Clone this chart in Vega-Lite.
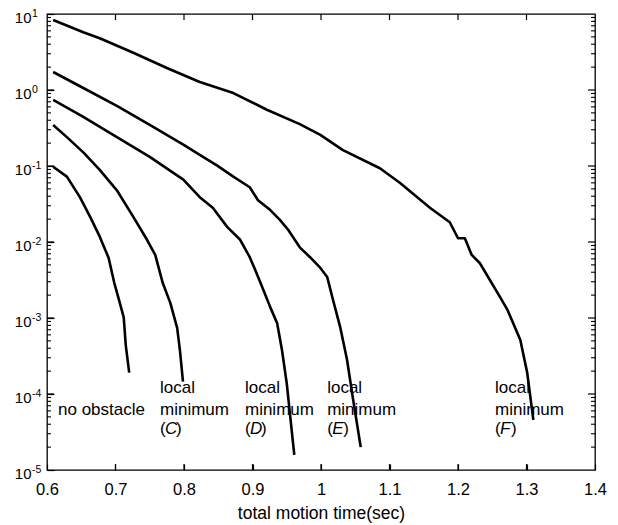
{
  "$schema": "https://vega.github.io/schema/vega-lite/v6.json",
  "width": 548,
  "height": 456,
  "autosize": {"type": "none"},
  "padding": {"left": 47, "top": 14, "right": 23, "bottom": 55},
  "background": "white",
  "config": {
    "view": {"stroke": "black", "strokeWidth": 1.3},
    "font": "Liberation Sans"
  },
  "datasets": {
    "curves": [
      {"s": "none", "x": 0.609, "y": 0.0977},
      {"s": "none", "x": 0.629, "y": 0.0724},
      {"s": "none", "x": 0.648, "y": 0.0389},
      {"s": "none", "x": 0.663, "y": 0.0214},
      {"s": "none", "x": 0.677, "y": 0.01175},
      {"s": "none", "x": 0.690, "y": 0.00617},
      {"s": "none", "x": 0.698, "y": 0.00295},
      {"s": "none", "x": 0.705, "y": 0.00174},
      {"s": "none", "x": 0.712, "y": 0.00102},
      {"s": "none", "x": 0.715, "y": 0.000437},
      {"s": "none", "x": 0.720, "y": 0.000191},

      {"s": "C", "x": 0.609, "y": 0.347},
      {"s": "C", "x": 0.629, "y": 0.240},
      {"s": "C", "x": 0.653, "y": 0.151},
      {"s": "C", "x": 0.677, "y": 0.0891},
      {"s": "C", "x": 0.702, "y": 0.0479},
      {"s": "C", "x": 0.726, "y": 0.0214},
      {"s": "C", "x": 0.746, "y": 0.0107},
      {"s": "C", "x": 0.758, "y": 0.00676},
      {"s": "C", "x": 0.769, "y": 0.00288},
      {"s": "C", "x": 0.780, "y": 0.00158},
      {"s": "C", "x": 0.790, "y": 0.000741},
      {"s": "C", "x": 0.794, "y": 0.00038},
      {"s": "C", "x": 0.7985, "y": 0.000145},

      {"s": "D", "x": 0.609, "y": 0.741},
      {"s": "D", "x": 0.653, "y": 0.442},
      {"s": "D", "x": 0.702, "y": 0.240},
      {"s": "D", "x": 0.750, "y": 0.132},
      {"s": "D", "x": 0.799, "y": 0.0661},
      {"s": "D", "x": 0.823, "y": 0.0389},
      {"s": "D", "x": 0.842, "y": 0.0282},
      {"s": "D", "x": 0.863, "y": 0.0158},
      {"s": "D", "x": 0.882, "y": 0.0107},
      {"s": "D", "x": 0.896, "y": 0.00631},
      {"s": "D", "x": 0.904, "y": 0.00427},
      {"s": "D", "x": 0.914, "y": 0.00257},
      {"s": "D", "x": 0.926, "y": 0.00138},
      {"s": "D", "x": 0.936, "y": 0.000851},
      {"s": "D", "x": 0.943, "y": 0.00038},
      {"s": "D", "x": 0.950, "y": 0.000138},
      {"s": "D", "x": 0.961, "y": 0.0000158},

      {"s": "E", "x": 0.609, "y": 1.726},
      {"s": "E", "x": 0.653, "y": 1.062},
      {"s": "E", "x": 0.702, "y": 0.617},
      {"s": "E", "x": 0.750, "y": 0.347},
      {"s": "E", "x": 0.799, "y": 0.191},
      {"s": "E", "x": 0.823, "y": 0.140},
      {"s": "E", "x": 0.848, "y": 0.102},
      {"s": "E", "x": 0.872, "y": 0.0724},
      {"s": "E", "x": 0.896, "y": 0.0525},
      {"s": "E", "x": 0.908, "y": 0.0355},
      {"s": "E", "x": 0.926, "y": 0.0263},
      {"s": "E", "x": 0.940, "y": 0.0195},
      {"s": "E", "x": 0.952, "y": 0.0145},
      {"s": "E", "x": 0.969, "y": 0.00851},
      {"s": "E", "x": 0.984, "y": 0.00631},
      {"s": "E", "x": 0.998, "y": 0.00468},
      {"s": "E", "x": 1.009, "y": 0.00347},
      {"s": "E", "x": 1.0175, "y": 0.00174},
      {"s": "E", "x": 1.028, "y": 0.000759},
      {"s": "E", "x": 1.038, "y": 0.000282},
      {"s": "E", "x": 1.047, "y": 0.0000832},
      {"s": "E", "x": 1.058, "y": 0.00002},

      {"s": "F", "x": 0.609, "y": 8.32},
      {"s": "F", "x": 0.653, "y": 5.75},
      {"s": "F", "x": 0.677, "y": 4.79},
      {"s": "F", "x": 0.726, "y": 3.09},
      {"s": "F", "x": 0.775, "y": 1.95},
      {"s": "F", "x": 0.823, "y": 1.274},
      {"s": "F", "x": 0.872, "y": 0.912},
      {"s": "F", "x": 0.921, "y": 0.550},
      {"s": "F", "x": 0.969, "y": 0.355},
      {"s": "F", "x": 0.999, "y": 0.257},
      {"s": "F", "x": 1.032, "y": 0.162},
      {"s": "F", "x": 1.086, "y": 0.0933},
      {"s": "F", "x": 1.115, "y": 0.0603},
      {"s": "F", "x": 1.159, "y": 0.0282},
      {"s": "F", "x": 1.188, "y": 0.0182},
      {"s": "F", "x": 1.200, "y": 0.0112},
      {"s": "F", "x": 1.210, "y": 0.0112},
      {"s": "F", "x": 1.220, "y": 0.00676},
      {"s": "F", "x": 1.232, "y": 0.00525},
      {"s": "F", "x": 1.261, "y": 0.00191},
      {"s": "F", "x": 1.272, "y": 0.00129},
      {"s": "F", "x": 1.291, "y": 0.000513},
      {"s": "F", "x": 1.301, "y": 0.000191},
      {"s": "F", "x": 1.310, "y": 0.0000457}
    ],
    "plain": [
      {"t": "no obstacle", "x": 0.6161, "y": 0.000053}
    ],
    "minima": [
      {"letter": "C", "x": 0.765, "y": 0.000053},
      {"letter": "D", "x": 0.889, "y": 0.000053},
      {"letter": "E", "x": 1.009, "y": 0.000053},
      {"letter": "F", "x": 1.254, "y": 0.000053}
    ],
    "exps": [
      {"v": 10, "e": "1"},
      {"v": 1, "e": "0"},
      {"v": 0.1, "e": "-1"},
      {"v": 0.01, "e": "-2"},
      {"v": 0.001, "e": "-3"},
      {"v": 0.0001, "e": "-4"},
      {"v": 0.00001, "e": "-5"}
    ],
    "xticks": [
      {"v": 0.7}, {"v": 0.8}, {"v": 0.9}, {"v": 1.0}, {"v": 1.1}, {"v": 1.2}, {"v": 1.3}
    ],
    "ymajor": [
      {"v": 0.0001}, {"v": 0.001}, {"v": 0.01}, {"v": 0.1}, {"v": 1}
    ],
    "yminor": [
      {"v": 0.00002}, {"v": 0.00003}, {"v": 0.00004}, {"v": 0.00005}, {"v": 0.00006}, {"v": 0.00007}, {"v": 0.00008}, {"v": 0.00009},
      {"v": 0.0002}, {"v": 0.0003}, {"v": 0.0004}, {"v": 0.0005}, {"v": 0.0006}, {"v": 0.0007}, {"v": 0.0008}, {"v": 0.0009},
      {"v": 0.002}, {"v": 0.003}, {"v": 0.004}, {"v": 0.005}, {"v": 0.006}, {"v": 0.007}, {"v": 0.008}, {"v": 0.009},
      {"v": 0.02}, {"v": 0.03}, {"v": 0.04}, {"v": 0.05}, {"v": 0.06}, {"v": 0.07}, {"v": 0.08}, {"v": 0.09},
      {"v": 0.2}, {"v": 0.3}, {"v": 0.4}, {"v": 0.5}, {"v": 0.6}, {"v": 0.7}, {"v": 0.8}, {"v": 0.9},
      {"v": 2}, {"v": 3}, {"v": 4}, {"v": 5}, {"v": 6}, {"v": 7}, {"v": 8}, {"v": 9}
    ]
  },
  "layer": [
    {
      "data": {"name": "curves"},
      "mark": {"type": "line", "color": "black", "strokeWidth": 2.6, "strokeJoin": "round"},
      "encoding": {
        "x": {
          "field": "x", "type": "quantitative",
          "scale": {"domain": [0.6, 1.4], "nice": false, "zero": false},
          "axis": {
            "orient": "bottom", "offset": -6, "tickSize": 6, "tickColor": "black", "tickWidth": 1.2,
            "domain": false, "grid": false, "labelFlush": false,
            "values": [0.6, 0.7, 0.8, 0.9, 1.0, 1.1, 1.2, 1.3, 1.4],
            "format": "~g",
            "labelFont": "Liberation Sans", "labelFontSize": 16.5, "labelColor": "black",
            "labelPadding": 11,
            "title": "total motion time(sec)",
            "titleFont": "Liberation Sans", "titleFontSize": 17.5, "titleFontWeight": "normal", "titleColor": "black",
            "titlePadding": 7
          }
        },
        "y": {
          "field": "y", "type": "quantitative",
          "scale": {"type": "log", "domain": [0.00001, 10], "nice": false},
          "axis": {
            "orient": "left", "offset": -7, "tickSize": 7, "tickColor": "black", "tickWidth": 1.2,
            "domain": false, "grid": false, "labelFlush": false,
            "values": [0.00001, 0.0001, 0.001, 0.01, 0.1, 1, 10],
            "labelExpr": "'10'",
            "labelFont": "Liberation Sans", "labelFontSize": 15, "labelColor": "black",
            "labelPadding": 16,
            "labelOffset": 3.5,
            "title": null
          }
        },
        "detail": {"field": "s"}
      }
    },
    {
      "data": {"name": "plain"},
      "mark": {"type": "text", "align": "left", "baseline": "alphabetic", "fontSize": 17, "font": "Liberation Sans", "color": "black"},
      "encoding": {
        "x": {"field": "x", "type": "quantitative", "axis": null},
        "y": {"field": "y", "type": "quantitative", "axis": null},
        "text": {"field": "t"}
      }
    },
    {
      "data": {"name": "minima"},
      "mark": {"type": "text", "align": "left", "baseline": "alphabetic", "fontSize": 17, "font": "Liberation Sans", "color": "black", "dy": -22},
      "encoding": {
        "x": {"field": "x", "type": "quantitative", "axis": null},
        "y": {"field": "y", "type": "quantitative", "axis": null},
        "text": {"value": "local"}
      }
    },
    {
      "data": {"name": "minima"},
      "mark": {"type": "text", "align": "left", "baseline": "alphabetic", "fontSize": 17, "font": "Liberation Sans", "color": "black"},
      "encoding": {
        "x": {"field": "x", "type": "quantitative", "axis": null},
        "y": {"field": "y", "type": "quantitative", "axis": null},
        "text": {"value": "minimum"}
      }
    },
    {
      "data": {"name": "minima"},
      "mark": {"type": "text", "align": "left", "baseline": "alphabetic", "fontSize": 17, "font": "Liberation Sans", "color": "black", "dy": 19},
      "encoding": {
        "x": {"field": "x", "type": "quantitative", "axis": null},
        "y": {"field": "y", "type": "quantitative", "axis": null},
        "text": {"value": "("}
      }
    },
    {
      "data": {"name": "minima"},
      "mark": {"type": "text", "align": "left", "baseline": "alphabetic", "fontSize": 17, "font": "Liberation Sans", "fontStyle": "italic", "color": "black", "dy": 19, "dx": 5},
      "encoding": {
        "x": {"field": "x", "type": "quantitative", "axis": null},
        "y": {"field": "y", "type": "quantitative", "axis": null},
        "text": {"field": "letter"}
      }
    },
    {
      "data": {"name": "minima"},
      "mark": {"type": "text", "align": "left", "baseline": "alphabetic", "fontSize": 17, "font": "Liberation Sans", "color": "black", "dy": 19, "dx": 16},
      "encoding": {
        "x": {"field": "x", "type": "quantitative", "axis": null},
        "y": {"field": "y", "type": "quantitative", "axis": null},
        "text": {"value": ")"}
      }
    },
    {
      "data": {"name": "exps"},
      "mark": {"type": "text", "align": "left", "baseline": "alphabetic", "fontSize": 10.5, "font": "Liberation Sans", "color": "black", "dx": -15, "dy": 3},
      "encoding": {
        "x": {"datum": 0.6, "type": "quantitative", "axis": null},
        "y": {"field": "v", "type": "quantitative", "axis": null},
        "text": {"field": "e"}
      }
    },
    {
      "data": {"name": "xticks"},
      "mark": {"type": "rule", "color": "black", "strokeWidth": 1.2},
      "encoding": {
        "x": {"field": "v", "type": "quantitative", "axis": null},
        "y": {"datum": 0.00001, "type": "quantitative", "axis": null},
        "y2": {"datum": 0.000012}
      }
    },
    {
      "data": {"name": "xticks"},
      "mark": {"type": "rule", "color": "black", "strokeWidth": 1.2},
      "encoding": {
        "x": {"field": "v", "type": "quantitative", "axis": null},
        "y": {"datum": 10, "type": "quantitative", "axis": null},
        "y2": {"datum": 8.34}
      }
    },
    {
      "data": {"name": "ymajor"},
      "mark": {"type": "rule", "color": "black", "strokeWidth": 1.2},
      "encoding": {
        "y": {"field": "v", "type": "quantitative", "axis": null},
        "x": {"datum": 0.6, "type": "quantitative", "axis": null},
        "x2": {"datum": 0.6102}
      }
    },
    {
      "data": {"name": "ymajor"},
      "mark": {"type": "rule", "color": "black", "strokeWidth": 1.2},
      "encoding": {
        "y": {"field": "v", "type": "quantitative", "axis": null},
        "x": {"datum": 1.4, "type": "quantitative", "axis": null},
        "x2": {"datum": 1.3898}
      }
    },
    {
      "data": {"name": "yminor"},
      "mark": {"type": "rule", "color": "black", "strokeWidth": 1.1},
      "encoding": {
        "y": {"field": "v", "type": "quantitative", "axis": null},
        "x": {"datum": 0.6, "type": "quantitative", "axis": null},
        "x2": {"datum": 0.6058}
      }
    },
    {
      "data": {"name": "yminor"},
      "mark": {"type": "rule", "color": "black", "strokeWidth": 1.1},
      "encoding": {
        "y": {"field": "v", "type": "quantitative", "axis": null},
        "x": {"datum": 1.4, "type": "quantitative", "axis": null},
        "x2": {"datum": 1.3942}
      }
    }
  ],
  "resolve": {"axis": {"x": "independent", "y": "independent"}}
}
